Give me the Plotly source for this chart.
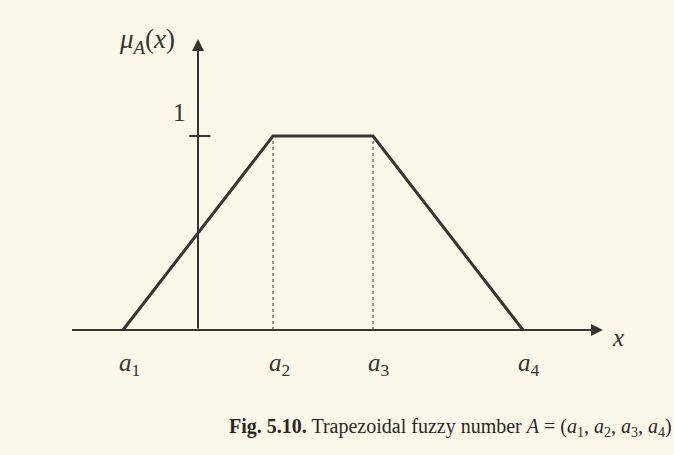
"""Trapezoidal fuzzy number figure (Fig. 5.10) rebuilt with Plotly."""

import plotly.graph_objects as go

# Data (y-axis sits at x = 0)
A_POINTS = [-3, 3, 7, 13]          # a1, a2, a3, a4
MU_VALUES = [0, 1, 1, 0]           # membership at each point
A_LABELS = ["<i>a</i><sub>1</sub>", "<i>a</i><sub>2</sub>",
            "<i>a</i><sub>3</sub>", "<i>a</i><sub>4</sub>"]
CAPTION = ("<b>Fig. 5.10.</b> Trapezoidal fuzzy number <i>A</i> = "
           "(<i>a</i><sub>1</sub>, <i>a</i><sub>2</sub>, "
           "<i>a</i><sub>3</sub>, <i>a</i><sub>4</sub>)")

INK = "#38332e"
PAPER = "#fbf8ea"
FONT = "Liberation Serif"

fig = go.Figure()

# trapezoid
fig.add_trace(go.Scatter(
    x=A_POINTS, y=MU_VALUES, mode="lines",
    line=dict(color=INK, width=3), hoverinfo="skip",
))

# dotted drops from a2, a3
for xv in A_POINTS[1:3]:
    fig.add_trace(go.Scatter(
        x=[xv, xv], y=[0, 1], mode="lines",
        line=dict(color=INK, width=1, dash="dot"), hoverinfo="skip",
    ))

# axes drawn as arrows
fig.add_annotation(x=16.2, y=0, ax=-5.1, ay=0, xref="x", yref="y",
                   axref="x", ayref="y", showarrow=True, arrowhead=2,
                   arrowsize=1.2, arrowwidth=2, arrowcolor=INK, text="")
fig.add_annotation(x=0, y=1.5, ax=0, ay=0, xref="x", yref="y",
                   axref="x", ayref="y", showarrow=True, arrowhead=2,
                   arrowsize=1.2, arrowwidth=2, arrowcolor=INK, text="")

# tick at mu = 1
fig.add_shape(type="line", x0=-0.35, x1=0.5, y0=1, y1=1,
              line=dict(color=INK, width=2))

text_font = dict(family=FONT, size=25, color=INK)
fig.add_annotation(x=-0.75, y=1.12, text="1", showarrow=False,
                   font=text_font, xanchor="center", yanchor="middle")
fig.add_annotation(x=-2.05, y=1.49, text="<i>μ<sub>A</sub></i>(<i>x</i>)",
                   showarrow=False, font=dict(family=FONT, size=27, color=INK),
                   xanchor="center", yanchor="middle")
fig.add_annotation(x=16.8, y=-0.04, text="<i>x</i>", showarrow=False,
                   font=text_font, xanchor="center", yanchor="middle")

for xv, lab in zip(A_POINTS, A_LABELS):
    fig.add_annotation(x=xv + 0.25, y=-0.18, text=lab, showarrow=False,
                       font=text_font, xanchor="center", yanchor="middle")

fig.add_annotation(x=0.668, y=0.06, xref="paper", yref="paper",
                   text=CAPTION, showarrow=False, xanchor="center",
                   yanchor="middle",
                   font=dict(family=FONT, size=20, color="#2b2723"))

fig.update_layout(
    width=674, height=455,
    margin=dict(l=0, r=0, t=0, b=0),
    paper_bgcolor=PAPER, plot_bgcolor=PAPER,
    showlegend=False,
    xaxis=dict(range=[-7.92, 19.04], visible=False, fixedrange=True),
    yaxis=dict(range=[-0.644, 1.701], visible=False, fixedrange=True),
)

fig.write_html("out.html", config={"displayModeBar": False},
               post_script="document.body.style.margin='0';"
                           "document.body.style.overflow='hidden';")
